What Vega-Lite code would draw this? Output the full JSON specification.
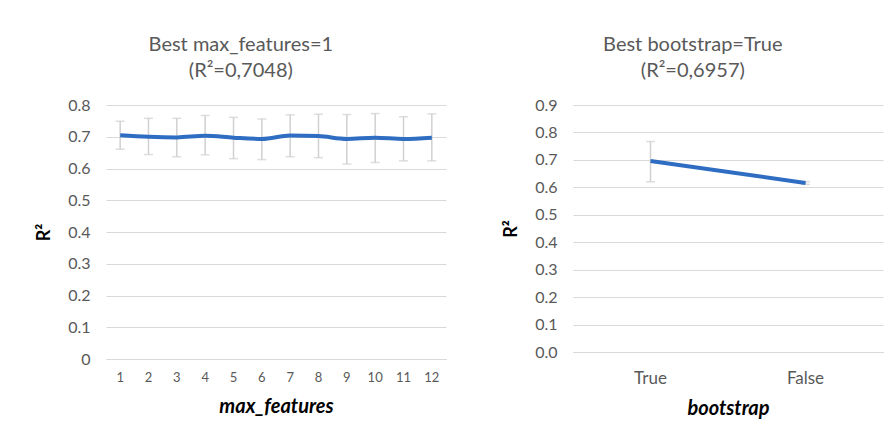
{
  "$schema": "https://vega.github.io/schema/vega-lite/v6.json",
  "background": "white",
  "padding": {"left": 35, "top": 35, "right": 10, "bottom": 10},
  "spacing": 56,
  "datasets": {
    "mf": [
      {"max_features": 1, "r2": 0.7048, "lo": 0.661, "hi": 0.749},
      {"max_features": 2, "r2": 0.700, "lo": 0.644, "hi": 0.758},
      {"max_features": 3, "r2": 0.698, "lo": 0.637, "hi": 0.758},
      {"max_features": 4, "r2": 0.703, "lo": 0.643, "hi": 0.767},
      {"max_features": 5, "r2": 0.697, "lo": 0.631, "hi": 0.761},
      {"max_features": 6, "r2": 0.693, "lo": 0.628, "hi": 0.756},
      {"max_features": 7, "r2": 0.704, "lo": 0.637, "hi": 0.769},
      {"max_features": 8, "r2": 0.702, "lo": 0.634, "hi": 0.771},
      {"max_features": 9, "r2": 0.693, "lo": 0.614, "hi": 0.770},
      {"max_features": 10, "r2": 0.697, "lo": 0.619, "hi": 0.773},
      {"max_features": 11, "r2": 0.693, "lo": 0.624, "hi": 0.763},
      {"max_features": 12, "r2": 0.697, "lo": 0.624, "hi": 0.772}
    ],
    "bs": [
      {"bootstrap": "True", "r2": 0.6957, "lo": 0.620, "hi": 0.767},
      {"bootstrap": "False", "r2": 0.616, "lo": 0.611, "hi": 0.621}
    ]
  },
  "config": {
    "font": "Lato",
    "view": {"stroke": null},
    "axis": {
      "labelFont": "Lato",
      "labelColor": "#595959",
      "gridColor": "#d9d9d9",
      "gridWidth": 1,
      "ticks": false,
      "titleFont": "Lato",
      "titleColor": "#000000",
      "titleFontWeight": "bold"
    },
    "title": {
      "font": "Lato",
      "fontSize": 20,
      "fontWeight": "normal",
      "color": "#595959",
      "anchor": "middle",
      "frame": "bounds",
      "lineHeight": 26,
      "offset": 16
    }
  },
  "hconcat": [
    {
      "width": 340,
      "height": 254,
      "title": {"text": ["Best max_features=1", "(R²=0,7048)"]},
      "data": {"name": "mf"},
      "encoding": {
        "x": {
          "field": "max_features", "type": "ordinal",
          "axis": {"labelAngle": 0, "labelFontSize": 13, "labelPadding": 12, "domainColor": "#d9d9d9", "title": "max_features", "titleFontSize": 20, "titleFontStyle": "italic", "titlePadding": 12, "grid": false}
        }
      },
      "layer": [
        {
          "mark": {"type": "errorbar", "ticks": {"size": 9, "color": "#d0d0d0", "thickness": 1.5}, "rule": {"color": "#d0d0d0", "strokeWidth": 1.5}},
          "encoding": {
            "y": {
              "field": "lo", "type": "quantitative",
              "scale": {"domain": [0, 0.8], "nice": false},
              "axis": {"values": [0, 0.1, 0.2, 0.3, 0.4, 0.5, 0.6, 0.7, 0.8], "labelExpr": "datum.value == 0 ? '0' : format(datum.value, '.1f')", "labelFontSize": 16, "labelPadding": 16, "domain": false, "title": "R²", "titleFontSize": 18, "titlePadding": 14}
            },
            "y2": {"field": "hi"}
          }
        },
        {
          "mark": {"type": "line", "color": "#2E6DC2", "strokeWidth": 4, "interpolate": "monotone"},
          "encoding": {
            "y": {
              "field": "r2", "type": "quantitative",
              "scale": {"domain": [0, 0.8], "nice": false},
              "axis": {"values": [0, 0.1, 0.2, 0.3, 0.4, 0.5, 0.6, 0.7, 0.8], "labelExpr": "datum.value == 0 ? '0' : format(datum.value, '.1f')", "labelFontSize": 16, "labelPadding": 16, "domain": false, "title": "R²", "titleFontSize": 18, "titlePadding": 14}
            }
          }
        }
      ]
    },
    {
      "width": 310,
      "height": 247,
      "title": {"text": ["Best bootstrap=True", "(R²=0,6957)"]},
      "data": {"name": "bs"},
      "encoding": {
        "x": {
          "field": "bootstrap", "type": "nominal", "sort": ["True", "False"],
          "axis": {"labelAngle": 0, "labelFontSize": 17, "labelPadding": 18, "domainColor": "#d9d9d9", "title": "bootstrap", "titleFontSize": 20, "titleFontStyle": "italic", "titlePadding": 12, "grid": false}
        }
      },
      "layer": [
        {
          "mark": {"type": "errorbar", "ticks": {"size": 9, "color": "#d0d0d0", "thickness": 1.5}, "rule": {"color": "#d0d0d0", "strokeWidth": 1.5}},
          "encoding": {
            "y": {
              "field": "lo", "type": "quantitative",
              "scale": {"domain": [0, 0.9], "nice": false},
              "axis": {"values": [0, 0.1, 0.2, 0.3, 0.4, 0.5, 0.6, 0.7, 0.8, 0.9], "format": ".1f", "labelFontSize": 16, "labelPadding": 16, "domain": false, "title": "R²", "titleFontSize": 18, "titlePadding": 14}
            },
            "y2": {"field": "hi"}
          }
        },
        {
          "mark": {"type": "line", "color": "#2E6DC2", "strokeWidth": 4},
          "encoding": {
            "y": {
              "field": "r2", "type": "quantitative",
              "scale": {"domain": [0, 0.9], "nice": false},
              "axis": {"values": [0, 0.1, 0.2, 0.3, 0.4, 0.5, 0.6, 0.7, 0.8, 0.9], "format": ".1f", "labelFontSize": 16, "labelPadding": 16, "domain": false, "title": "R²", "titleFontSize": 18, "titlePadding": 14}
            }
          }
        }
      ]
    }
  ]
}
